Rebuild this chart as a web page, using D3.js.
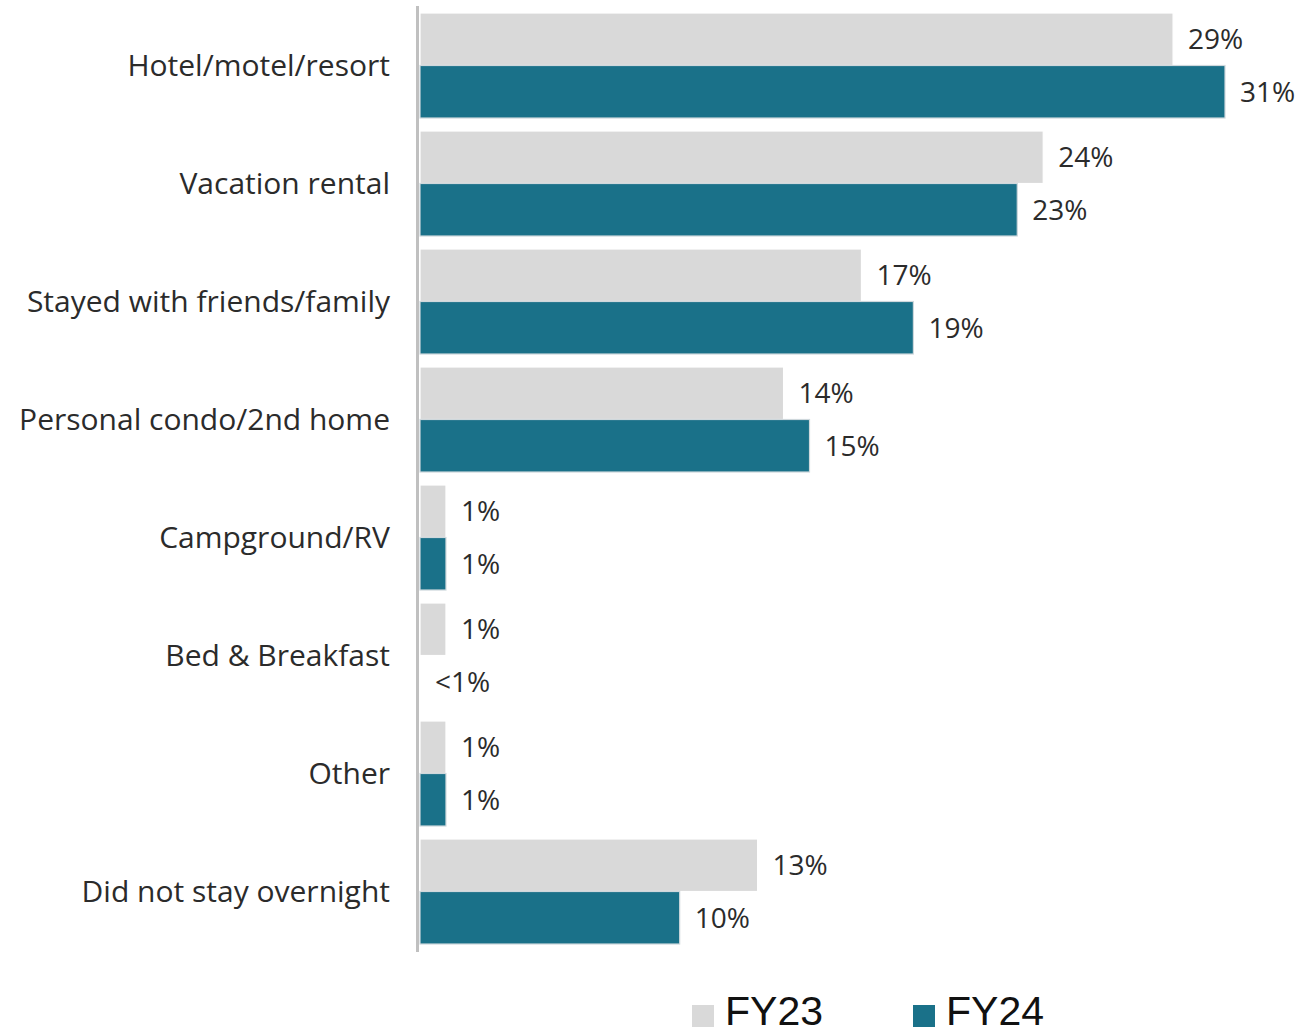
<!DOCTYPE html>
<html>
<head>
<meta charset="utf-8">
<script src="https://cdn.jsdelivr.net/npm/d3@7"></script>
<style>
  html, body { margin: 0; padding: 0; background: #fff; }
  svg { display: block; }
</style>
</head>
<body>
<svg id="chart" width="1300" height="1034"></svg>
<script>
// Overnight accommodation type, share of visitors by fiscal year
const categories = [
  "Hotel/motel/resort",
  "Vacation rental",
  "Stayed with friends/family",
  "Personal condo/2nd home",
  "Campground/RV",
  "Bed & Breakfast",
  "Other",
  "Did not stay overnight"
];
const seriesNames = ["FY23", "FY24"];
const fy23 = [29, 24, 17, 14, 1, 1, 1, 13];
const fy24 = [31, 23, 19, 15, 1, 0, 1, 10];
const fy23Labels = ["29%", "24%", "17%", "14%", "1%", "1%", "1%", "13%"];
const fy24Labels = ["31%", "23%", "19%", "15%", "1%", "<1%", "1%", "10%"];

const colors = { FY23: "#d9d9d9", FY24: "#1a7189" };
const seriesValues = { FY23: fy23, FY24: fy24 };
const seriesLabels = { FY23: fy23Labels, FY24: fy24Labels };
const textFont = "'Open Sans', Lato, sans-serif";

const svg = d3.select("#chart");
const x = d3.scaleLinear().domain([0, 31]).range([420, 1225]);

const y = d3.scaleBand()
  .domain(categories)
  .range([6.5, 950.5])
  .paddingInner(0.11)
  .paddingOuter(0.055);

const ySub = d3.scaleBand()
  .domain(seriesNames)
  .range([0, y.bandwidth()])
  .padding(0);

const rows = categories.map((c, i) => ({ c, i }));

const groups = svg.append("g")
  .selectAll("g")
  .data(rows)
  .join("g")
  .attr("transform", d => `translate(0,${y(d.c)})`);

seriesNames.forEach(s => {
  groups.append("rect")
    .attr("x", x(0))
    .attr("y", ySub(s))
    .attr("width", d => x(seriesValues[s][d.i]) - x(0))
    .attr("height", ySub.bandwidth())
    .attr("fill", colors[s])
    .attr("stroke", d => seriesValues[s][d.i] > 0 ? (s === "FY24" ? "#cfd8dc" : "#ffffff") : "none")
    .attr("stroke-width", 1.2);

  groups.append("text")
    .attr("x", d => x(seriesValues[s][d.i]) + 15)
    .attr("y", ySub(s) + ySub.bandwidth() / 2)
    .attr("dy", "0.36em")
    .attr("font-family", textFont)
    .attr("font-size", 28)
    .attr("fill", "#2b2b2b")
    .text(d => seriesLabels[s][d.i]);
});

// Category labels on the left, right-aligned against the axis
svg.append("g")
  .selectAll("text")
  .data(categories)
  .join("text")
  .attr("x", 390)
  .attr("y", d => y(d) + y.bandwidth() / 2)
  .attr("dy", "0.36em")
  .attr("text-anchor", "end")
  .attr("font-family", textFont)
  .attr("font-size", 30)
  .attr("fill", "#2b2b2b")
  .text(d => d);

// Vertical baseline
svg.append("line")
  .attr("x1", 417.5).attr("x2", 417.5)
  .attr("y1", 6).attr("y2", 952)
  .attr("stroke", "#c0c0c0")
  .attr("stroke-width", 3);

// Legend
const legendX = { FY23: 692, FY24: 913 };
const legend = svg.append("g")
  .selectAll("g")
  .data(seriesNames)
  .join("g")
  .attr("transform", d => `translate(${legendX[d]},1005)`);

legend.append("rect")
  .attr("width", 22).attr("height", 22)
  .attr("fill", d => colors[d]);

legend.append("text")
  .attr("x", 33)
  .attr("y", 20)
  .attr("font-family", "'Liberation Sans', Arial, sans-serif")
  .attr("font-size", 41)
  .attr("fill", "#111")
  .text(d => d);
</script>
</body>
</html>
